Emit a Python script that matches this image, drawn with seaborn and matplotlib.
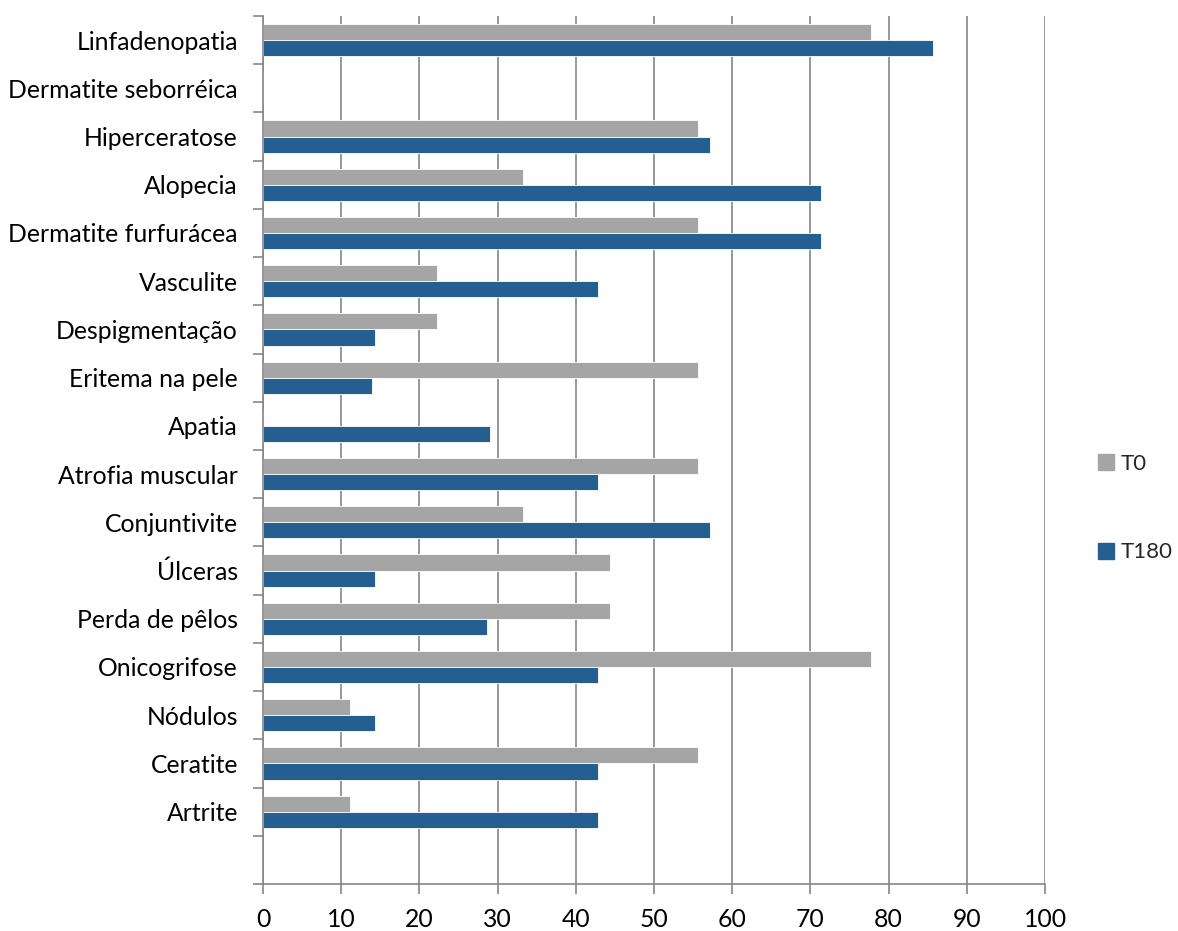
import numpy as np
import pandas as pd
import matplotlib
matplotlib.use("Agg")
import matplotlib.pyplot as plt
from matplotlib.lines import Line2D
import seaborn as sns

# Clinical signs, listed top to bottom
sinais = [
    "Linfadenopatia", "Dermatite seborréica", "Hiperceratose", "Alopecia",
    "Dermatite furfurácea", "Vasculite", "Despigmentação", "Eritema na pele",
    "Apatia", "Atrofia muscular", "Conjuntivite", "Úlceras", "Perda de pêlos",
    "Onicogrifose", "Nódulos", "Ceratite", "Artrite",
]
# Percentage of animals showing each sign
t0 = [77.8, 0, 55.6, 33.3, 55.6, 22.2, 22.2, 55.6, 0, 55.6, 33.3, 44.4, 44.4,
      77.8, 11.1, 55.6, 11.1]
t180 = [85.7, 0, 57.1, 71.4, 71.4, 42.9, 14.3, 14.0, 29.0, 42.9, 57.1, 14.3,
        28.6, 42.9, 14.3, 42.9, 42.9]
grupos = ["T0", "T180"]
cores = {"T0": "#A5A5A5", "T180": "#255E91"}
xticks = list(range(0, 101, 10))

df = pd.DataFrame({
    "sinal": sinais * 2,
    "valor": t0 + t180,
    "tempo": ["T0"] * len(sinais) + ["T180"] * len(sinais),
})

sns.set_theme(style="white")
plt.rcParams["font.family"] = ["Lato", "DejaVu Sans"]
FS = 17.8

fig = plt.figure(figsize=(11.78, 9.31), dpi=100)
ax = fig.add_axes([263 / 1178, 1 - 884 / 931, (1045 - 263) / 1178, (884 - 16) / 931])

sns.barplot(data=df, y="sinal", x="valor", hue="tempo", order=sinais,
            hue_order=grupos, palette=cores, orient="h", width=0.667,
            edgecolor="white", linewidth=0.6, saturation=1, legend=False, ax=ax)

n = len(sinais)
ax.set_ylim(n + 0.5, -0.5)
ax.set_xlim(0, 100)
ax.set_xticks(xticks)
ax.set_xticklabels([str(v) for v in xticks], fontsize=FS, color="black")
ax.set_yticks(range(n))
ax.set_yticklabels(sinais, fontsize=FS, color="black")
ax.set_yticks(np.arange(-0.5, n + 1, 1), minor=True)
ax.tick_params(axis="y", which="major", length=0, pad=18)
ax.tick_params(axis="y", which="minor", length=7, width=1.2, color="#868686", left=True)
ax.tick_params(axis="x", which="major", length=7, width=1.2, color="#868686", bottom=True, pad=10)
ax.set_xlabel("")
ax.set_ylabel("")

ax.grid(axis="x", color="#868686", linewidth=1.2)
ax.grid(axis="y", visible=False)
ax.set_axisbelow(True)
for side in ["top", "right"]:
    ax.spines[side].set_visible(False)
for side in ["left", "bottom"]:
    ax.spines[side].set_color("#868686")
    ax.spines[side].set_linewidth(1.2)

handles = [Line2D([], [], marker="s", linestyle="none", markersize=11,
                  markerfacecolor=cores[g], markeredgecolor=cores[g]) for g in grupos]
fig.legend(handles, grupos, loc="center left", bbox_to_anchor=(1094 / 1178, 1 - 508 / 931),
           frameon=False, fontsize=16, handlelength=0.7, handletextpad=0.3,
           labelspacing=3.1, borderaxespad=0, borderpad=0.2)

fig.savefig("out.png", dpi=100)
